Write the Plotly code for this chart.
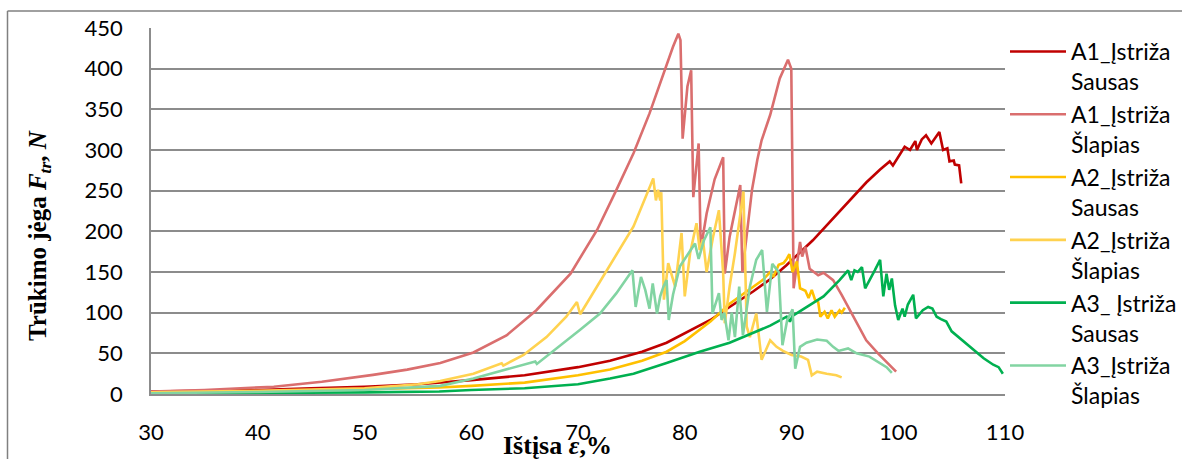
import plotly.graph_objects as go

# ---------------- data ----------------
names = ["A1_Įstriža<br>Sausas", "A1_Įstriža<br>Šlapias", "A2_Įstriža<br>Sausas",
         "A2_Įstriža<br>Šlapias", "A3_ Įstriža<br>Sausas", "A3_Įstriža<br>Šlapias"]
colors = ["#C00000", "#DA6E6E", "#FFC000", "#FFD24F", "#00B050", "#82D4A2"]

x1 = [30, 35, 40, 45, 50, 55, 60, 65, 70, 73, 76, 78.3, 80, 82.4, 84.2, 86.4, 88, 89.5, 92, 95.2,
      97, 98.3, 99.2, 99.5, 100.6, 101.1, 101.6, 101.75, 102.2, 102.6, 103.1, 103.85, 104.2, 104.6,
      104.8, 105.2, 105.3, 105.7, 105.9]
y1 = [3, 4, 5, 7, 9, 12, 17, 23, 33, 41, 52, 63, 75, 91, 107, 126, 141, 158, 189, 234,
      260, 276, 286, 281, 304, 300, 311, 300, 313, 318, 308, 322, 300, 302,
      286, 287, 282, 281, 259]

x2 = [30, 35, 41.5, 46, 50.8, 54, 57.1, 60.2, 63.3, 66.1, 69.3, 71.8, 73.6, 75.2, 76.7, 78.0, 78.9,
      79.4, 79.6, 79.8, 80.25, 80.6, 80.8, 81.3, 81.5, 82.05, 82.8, 83.6, 83.75, 84.2, 85.2, 85.4,
      86.3, 86.8, 87.2, 88.0, 88.9, 89.67, 89.98, 90.2, 90.8, 91.0, 91.3, 91.7, 92.5, 93.0, 93.9,
      94.7, 95.3, 96.1, 97.0, 98.1, 98.9, 99.8]
y2 = [3, 5, 9, 15, 23.5, 30, 38, 51, 72, 103, 148, 202, 251, 296, 345, 394, 427,
      443, 435, 314, 378, 398, 242, 308, 178, 222, 264, 291, 148, 193, 257, 150,
      251, 288, 312, 343, 388, 411, 400, 130, 187, 169, 181, 154, 146, 149, 140,
      122, 107, 87, 66, 50, 40, 27.5]

x3 = [30, 40, 50, 57, 60, 65, 70, 73, 76, 78.3, 80, 82.4, 84.2, 86.4, 87.3, 88.0, 88.3, 88.8,
      89.25, 89.55, 89.8, 90.1, 90.5, 90.8, 91.3, 91.6, 91.9, 92.2, 92.5, 92.7, 93.1, 93.4,
      93.75, 94.05, 94.5, 94.7, 95.0]
y3 = [1.5, 3, 6, 8, 10, 14, 23, 30, 41, 52, 65, 89, 111, 132, 140, 150, 144, 159,
      161, 166, 172, 150, 163, 130, 127, 118, 128, 116, 113, 95, 101, 93,
      103, 95, 103, 100, 106]

x4 = [30, 40, 50, 55, 57.1, 60.2, 62.85, 63.0, 64.9, 67.05, 68.9, 69.9, 70.2, 70.8, 73.0, 75.2,
      77.05, 77.3, 77.5, 77.7, 77.8, 78.05, 78.45, 79.1, 79.7, 80.0, 80.5, 81.1, 81.4, 81.7,
      82.05, 82.65, 83.2, 83.6, 83.75, 84.2, 84.7, 85.5, 85.8, 86.1, 86.7, 87.2, 88.0, 88.6,
      89.2, 90.0, 90.9, 91.55, 91.9, 92.4, 93.3, 94.2, 94.7]
y4 = [2, 4, 7, 12, 16, 25, 37.7, 35, 48, 70, 95, 113, 98, 111, 158, 206,
      265, 238, 251, 238, 248, 116, 161, 132, 198, 120, 173, 210, 177, 190,
      150, 193, 226, 148, 87, 132, 173, 249, 83, 70, 99, 42, 66, 58,
      53, 48, 46, 42, 23, 27.5, 25, 23, 20.4]

x5 = [30, 40, 50, 57, 60, 65, 70, 73, 75.2, 78.3, 81.4, 84.2, 86.4, 88, 89.55, 89.85, 90.1, 91.4,
      93.0, 94.5, 95.3, 95.6, 95.9, 96.2, 96.6, 96.9, 97.5, 97.8, 98.3, 98.6, 98.9, 99.15, 99.4,
      99.7, 100.0, 100.4, 100.6, 100.9, 101.4, 101.66, 102.3, 102.8, 103.2, 103.6, 104.0, 104.5,
      105.0, 105.8, 106.9, 108.0, 108.9, 109.4, 109.8]
y5 = [0.5, 1, 2, 3, 5, 7, 12, 19, 25, 38, 52, 63, 75, 84, 95, 89, 96, 107,
      120, 140, 152, 140, 152, 150, 156, 130, 144, 152, 165, 120, 148, 128, 142,
      109, 91, 105, 95, 110, 122, 93, 103, 107, 105, 95, 92, 89,
      77, 68.5, 56, 44, 36, 33, 25]

x6 = [30, 40, 50, 57.1, 60.2, 63.3, 66.0, 66.15, 68.0, 70.2, 72.06, 73.6, 75.1, 75.4, 75.9, 76.3,
      76.7, 77.0, 77.4, 77.7, 78.0, 78.3, 78.5, 78.9, 79.55, 80.2, 80.96, 81.3, 81.8, 82.4, 82.6,
      83.2, 83.45, 83.7, 84.1, 84.4, 84.7, 85.1, 85.45, 86.1, 86.7, 87.25, 87.7, 88.2, 88.8,
      89.15, 89.6, 90.1, 90.35, 90.8, 91.4, 92.4, 93.3, 93.9, 94.4, 95.3, 96.1, 97.3, 98.3,
      98.9, 99.4]
y6 = [1, 2.5, 5, 10, 19, 30, 40, 37, 56, 79, 99, 124, 152, 107, 144, 128,
      105, 136, 99, 120, 132, 140, 91, 122, 157, 170, 185, 166, 189, 205, 99,
      124, 91, 100, 66, 100, 70, 132, 72, 132, 165, 177, 101, 160, 150,
      60, 91, 104, 31, 58, 63, 67, 65.5, 58, 53, 56, 50, 46, 38,
      33, 26]

xs = [x1, x2, x3, x4, x5, x6]
ys = [y1, y2, y3, y4, y5, y6]

x_ticks = [30, 40, 50, 60, 70, 80, 90, 100, 110]
y_ticks = [0, 50, 100, 150, 200, 250, 300, 350, 400, 450]

# ---------------- figure ----------------
W, H = 1182, 459
L, R, T, B = 151, 177, 28, 65
pw, ph = W - L - R, H - T - B

fig = go.Figure()
for i, (xv, yv, nm, c) in enumerate(zip(xs, ys, names, colors)):
    fig.add_trace(go.Scatter(x=xv, y=yv, name=nm, mode="lines", legendgroup=f"g{i}",
                             line=dict(color=c, width=2.6)))

grid = "#8C8C8C"
fig.update_layout(
    width=W, height=H,
    margin=dict(l=L, r=R, t=T, b=B, pad=0, autoexpand=False),
    paper_bgcolor="white", plot_bgcolor="white",
    font=dict(family="Lato", size=22, color="#000000"),
    showlegend=True,
    legend=dict(x=1.0, y=(394 - 30) / ph, xanchor="left", yanchor="top",
                font=dict(family="Lato", size=23, color="#000000"),
                bgcolor="rgba(0,0,0,0)", valign="top", itemwidth=56,
                tracegroupgap=0, maxheight=440),
    xaxis=dict(range=[30, 110], tickvals=x_ticks, showgrid=False, zeroline=False,
               showline=True, linecolor=grid, linewidth=1.5, automargin=False,
               ticks="outside", ticklen=18, tickcolor="rgba(0,0,0,0)",
               tickfont=dict(family="Lato", size=22)),
    yaxis=dict(range=[0, 450], tickvals=y_ticks, showgrid=True, gridcolor=grid,
               gridwidth=1.5, zeroline=False, showline=True, linecolor=grid,
               linewidth=1.5, ticks="outside", ticklen=22, automargin=False,
               tickcolor="rgba(0,0,0,0)", tickfont=dict(family="Lato", size=22)),
)

# axis titles
fig.add_annotation(xref="paper", yref="paper", x=(39 - L) / pw, y=(394 - 236) / ph,
                   text="<b>Trūkimo jėga <i>F<sub>tr</sub></i>, <i>N</i></b>",
                   textangle=-90, showarrow=False, xanchor="center", yanchor="middle",
                   font=dict(family="Liberation Serif", size=25, color="#000000"))
fig.add_annotation(xref="paper", yref="paper", x=(557 - L) / pw, y=(394 - 445) / ph,
                   text="<b>Ištįsa <i>ε</i>,%</b>", showarrow=False,
                   xanchor="center", yanchor="middle",
                   font=dict(family="Liberation Serif", size=26, color="#000000"))

# outer chart border (left and top visible in the reference)
bx0 = (7.5 - L) / pw
by1 = (394 - 11) / ph
fig.add_shape(type="line", xref="paper", yref="paper", x0=bx0, x1=bx0, y0=by1, y1=-1,
              line=dict(color="#808080", width=1.5))
fig.add_shape(type="line", xref="paper", yref="paper", x0=bx0, x1=1.5, y0=by1, y1=by1,
              line=dict(color="#808080", width=1.5))

fig.write_html("out.html", config={"displayModeBar": False},
               post_script="document.body.style.margin='0';document.body.style.overflow='hidden';")
